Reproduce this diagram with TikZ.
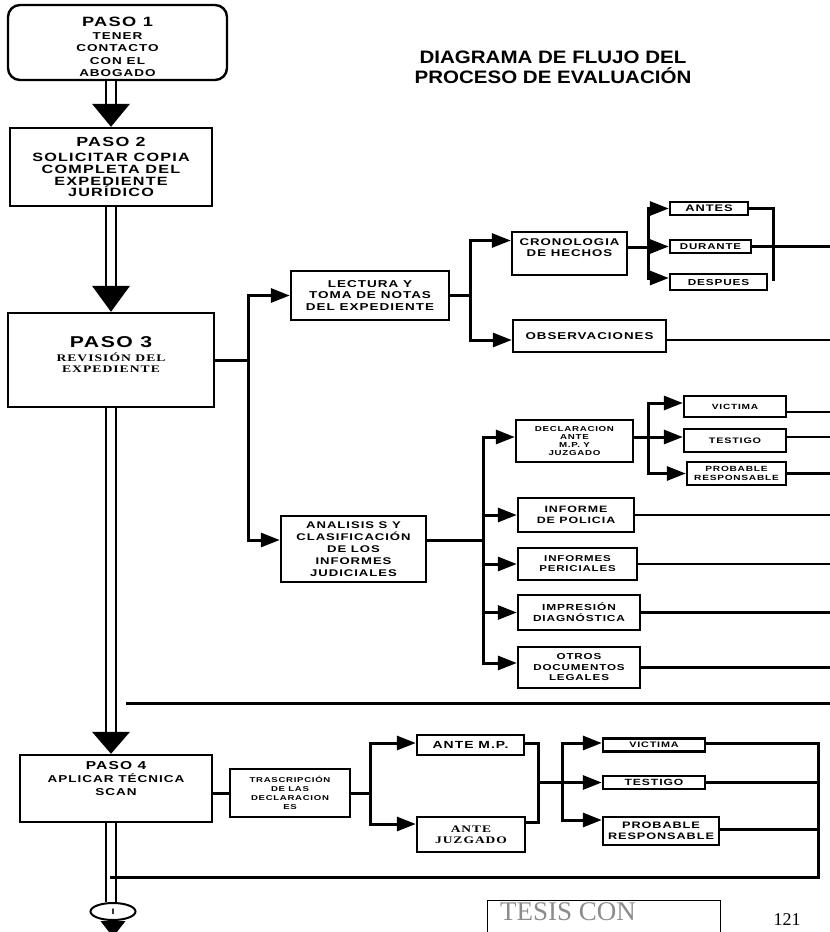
\documentclass[tikz,border=0pt]{standalone}
\usepackage{fontspec}
\setmainfont{Liberation Sans}
\newfontfamily\bxfam{Liberation Sans}[FakeStretch=1.35,LetterSpace=10]
\newfontfamily\srfam{Liberation Serif}[FakeStretch=1.35,LetterSpace=10]
\newfontfamily\ttlfam{Liberation Sans}[FakeStretch=1.14]
\newfontfamily\pgfam{Liberation Serif}
\newcommand\bxf[2]{\bxfam\bfseries\fontsize{#1}{#2}\selectfont}
\newcommand\srf[2]{\srfam\bfseries\fontsize{#1}{#2}\selectfont}
\usetikzlibrary{arrows.meta,shapes.geometric}
\begin{document}
\begin{tikzpicture}[x=1pt,y=-1pt,
  bx/.style={draw, line width=2.4pt, inner sep=0pt, align=center},
  txt/.style={inner sep=0pt, align=center},
  ln/.style={line width=3pt, line cap=rect},
  thinln/.style={line width=2.2pt},
  arr/.style={line width=3pt, line cap=rect, -{Triangle[length=19pt,width=14pt]}},
  dbl/.style={draw, line width=2pt, double=white, double distance=8pt}]
\useasboundingbox (0,0) rectangle (830,932);
\coordinate (dl) at (111,0);
\coordinate (edge) at (830,0);

% title
\node[anchor=base, inner sep=0pt, font=\ttlfam\bfseries\fontsize{18}{20}\selectfont] (t1) at (553,63) {DIAGRAMA DE FLUJO DEL};
\node[anchor=base, inner sep=0pt, font=\ttlfam\bfseries\fontsize{18}{20}\selectfont] (t2) at (553,83) {PROCESO DE EVALUACIÓN};

% main steps
\node[bx, rounded corners=12pt, minimum width=219pt, minimum height=75pt] (p1) at (117.5,42.5) {};
\node[txt, font=\bxf{10}{12.4}] (p1t) at (117.5,47) {{\fontsize{13.5}{15}\selectfont PASO 1}\\TENER\\CONTACTO\\CON EL\\ABOGADO};

\node[bx, minimum width=202pt, minimum height=78pt, font=\bxf{12}{11.7}] (p2) at (111,167) {{\fontsize{13.2}{15}\selectfont PASO 2}\\[4pt]SOLICITAR COPIA\\COMPLETA DEL\\EXPEDIENTE\\JURÍDICO};

\node[bx, minimum width=206pt, minimum height=94pt] (p3) at (111,360) {};
\node[txt, font=\srf{10.1}{11}] (p3t) at (111,355) {{\bxf{15.7}{17}PASO 3}\\[3pt]REVISIÓN DEL\\EXPEDIENTE};

\node[bx, minimum width=192pt, minimum height=67pt] (p4) at (116,788.5) {};
\node[txt, font=\bxf{10}{13}] (p4t) at (116,778.5) {{\fontsize{11.5}{13}\selectfont PASO 4}\\APLICAR TÉCNICA\\SCAN};

\node[ellipse, draw, line width=2pt, minimum width=45pt, minimum height=17pt, inner sep=0pt, font=\bxf{8}{9}] (oval) at (113,911.5) {I};

% branch boxes (upper)
\node[bx, minimum width=158pt, minimum height=49pt, font=\bxf{10}{11.7}] (lect) at (370,295.5) {LECTURA Y\\TOMA DE NOTAS\\DEL EXPEDIENTE};
\node[bx, minimum width=115pt, minimum height=43pt] (crono) at (569.5,253.5) {};
\node[txt, font=\bxf{9.8}{11}] (cronot) at (569.5,247.5) {CRONOLOGIA\\DE HECHOS};
\node[bx, minimum width=78pt, minimum height=13pt, font=\bxf{9.5}{10}] (antes) at (709,208.5) {ANTES};
\node[bx, minimum width=81pt, minimum height=13pt, font=\bxf{8.5}{10}] (dur) at (710.5,246.5) {DURANTE};
\node[bx, minimum width=97pt, minimum height=16pt, font=\bxf{8.7}{10}] (desp) at (718.5,282) {DESPUES};
\node[bx, minimum width=153pt, minimum height=32pt, font=\bxf{9.9}{11}] (obs) at (589.5,336) {OBSERVACIONES};

\node[bx, minimum width=145pt, minimum height=66pt, font=\bxf{9.7}{12}] (anal) at (353.5,549) {ANALISIS S Y\\CLASIFICACIÓN\\DE LOS\\INFORMES\\JUDICIALES};
\node[bx, minimum width=117pt, minimum height=42pt, font=\bxf{7.2}{8.3}] (decl) at (574.5,441) {DECLARACION\\ANTE\\M.P. Y\\JUZGADO};
\node[bx, minimum width=102pt, minimum height=21pt, font=\bxf{7.5}{9}] (vic) at (735,406.5) {VICTIMA};
\node[bx, minimum width=102pt, minimum height=23pt, font=\bxf{8}{9}] (tes) at (735,440.5) {TESTIGO};
\node[bx, minimum width=99pt, minimum height=23pt, font=\bxf{7.5}{9}] (prob) at (736.5,473.5) {PROBABLE\\RESPONSABLE};
\node[bx, minimum width=116pt, minimum height=34pt, font=\bxf{9.2}{10.5}] (pol) at (576,515) {INFORME\\DE POLICIA};
\node[bx, minimum width=119pt, minimum height=32pt, font=\bxf{8.5}{10}] (per) at (577.5,564) {INFORMES\\PERICIALES};
\node[bx, minimum width=122pt, minimum height=35pt, font=\bxf{8.8}{11}] (imp) at (579,612.5) {IMPRESIÓN\\DIAGNÓSTICA};
\node[bx, minimum width=122pt, minimum height=41pt, font=\bxf{8.6}{10.5}] (otr) at (579,667.5) {OTROS\\DOCUMENTOS\\LEGALES};

% branch boxes (lower)
\node[bx, minimum width=120pt, minimum height=48pt, font=\bxf{7.1}{9}] (trans) at (290,793) {TRASCRIPCIÓN\\DE LAS\\DECLARACION\\ES};
\node[bx, minimum width=107pt, minimum height=20pt, font=\bxf{10.3}{11}] (amp) at (470.5,745) {ANTE M.P.};
\node[bx, minimum width=108pt, minimum height=35pt, font=\srf{10}{11}] (ajuz) at (471,834.5) {ANTE\\JUZGADO};
\node[bx, minimum width=102pt, minimum height=13pt, font=\bxf{8}{9}] (vic2) at (654,745) {VICTIMA};
\node[bx, minimum width=102pt, minimum height=13pt, font=\bxf{9}{10}] (tes2) at (654,782.5) {TESTIGO};
\node[bx, minimum width=116pt, minimum height=28pt, font=\bxf{9.4}{11.5}] (prob2) at (661,831) {PROBABLE\\RESPONSABLE};

% stamp and page number
\node[draw, line width=0.8pt, minimum width=233pt, minimum height=50pt] (stamp) at (603.5,925) {};
\node[anchor=base, inner sep=0pt, text=black!45, font=\pgfam\fontsize{27}{30}\selectfont] (tesis) at (568,920) {TESIS CON};
\node[anchor=base, inner sep=0pt, font=\pgfam\fontsize{18}{20}\selectfont] (pg) at (787,925) {121};

% main double line with arrowheads
\draw[dbl] (p1.south -| dl) -- ++(0,25);
\fill (p2.north -| dl) ++(-19,-23) -- ++(38,0) -- (p2.north -| dl) -- cycle;
\draw[dbl] (p2.south -| dl) -- ++(0,81);
\fill (p3.north -| dl) ++(-19,-26) -- ++(38,0) -- (p3.north -| dl) -- cycle;
\draw[dbl] (p3.south -| dl) -- ++(0,326);
\fill (p4.north -| dl) ++(-19,-22) -- ++(38,0) -- (p4.north -| dl) -- cycle;
\draw[dbl] (p4.south -| dl) -- (oval.north -| dl);
\fill (oval.south) ++(-12.5,0) -- ++(25,0) -- ++(-12.5,16) -- cycle;

% PASO 3 branches
\coordinate (j3) at (248,360);
\draw[ln] (p3.east) -- (j3);
\draw[arr] (j3) |- (lect.west);
\draw[arr] (j3) |- ([yshift=9pt]anal.west);

\coordinate (jL) at (470,295.5);
\draw[ln] (lect.east) -- (jL);
\draw[arr] (jL) |- ([yshift=13pt]crono.west);
\draw[arr] (jL) |- ([yshift=-4pt]obs.west);

\coordinate (jC) at (648,247.5);
\draw[ln] ([yshift=6pt]crono.east) -- (jC);
\draw[arr] (jC) |- (antes.west);
\draw[arr] (jC) |- (dur.west);
\draw[arr] (jC) |- ([yshift=4pt]desp.west);
\coordinate (cA) at (773,279);
\draw[ln] (antes.east) -| (cA);
\draw[thinln] (dur.east) -- (dur.east -| edge);
\coordinate (oE) at ([yshift=-4pt]obs.east);
\draw[thinln] (oE) -- (oE -| edge);

\coordinate (jA) at (483,540);
\draw[ln] ([yshift=9pt]anal.east) -- (jA);
\draw[arr] (jA) |- ([yshift=4pt]decl.west);
\draw[arr] (jA) |- (pol.west);
\draw[arr] (jA) |- (per.west);
\draw[arr] (jA) |- (imp.west);
\draw[arr] (jA) |- ([yshift=4.5pt]otr.west);

\coordinate (jD) at (648,437);
\draw[ln] ([yshift=4pt]decl.east) -- (jD);
\draw[arr] (jD) |- ([yshift=3.5pt]vic.west);
\draw[arr] (jD) |- ([yshift=3.5pt]tes.west);
\draw[arr] (jD) |- (prob.west);

\coordinate (vE) at ([yshift=-5.5pt]vic.east);
\draw[thinln] (vE) -- (vE -| edge);
\coordinate (tE) at ([yshift=3.5pt]tes.east);
\draw[thinln] (tE) -- (tE -| edge);
\draw[thinln] (prob.east) -- (prob.east -| edge);
\draw[thinln] (pol.east) -- (pol.east -| edge);
\draw[thinln] (per.east) -- (per.east -| edge);
\draw[thinln] (imp.east) -- (imp.east -| edge);
\draw[thinln] (otr.east) -- (otr.east -| edge);

\coordinate (hs) at (127,703);
\draw[ln] (hs) -- (hs -| edge);

% PASO 4 branches
\draw[ln] ([yshift=-4.5pt]p4.east) -- (trans.west);
\coordinate (jT) at (370,793);
\draw[ln] (trans.east) -- (jT);
\draw[arr] (jT) |- ([yshift=2pt]amp.west);
\draw[arr] (jT) |- ([yshift=10.5pt]ajuz.west);
\coordinate (jM) at (538,782.5);
\draw[ln] ([yshift=2pt]amp.east) -| (jM);
\draw[ln] ([yshift=12.5pt]ajuz.east) -| (jM);
\draw[arr] (jM) -- (tes2.west);
\coordinate (jN) at (562,782.5);
\draw[arr] (jN) |- ([yshift=2pt]vic2.west);
\draw[arr] (jN) |- ([yshift=11pt]prob2.west);
\coordinate (jR) at (818,877);
\draw[ln] ([yshift=2pt]vic2.east) -| (jR) -- (jR -| dl);
\draw[ln] (tes2.east) -- (tes2.east -| jR);
\coordinate (pE) at ([yshift=2pt]prob2.east);
\draw[ln] (pE) -- (pE -| jR);
\end{tikzpicture}
\end{document}
